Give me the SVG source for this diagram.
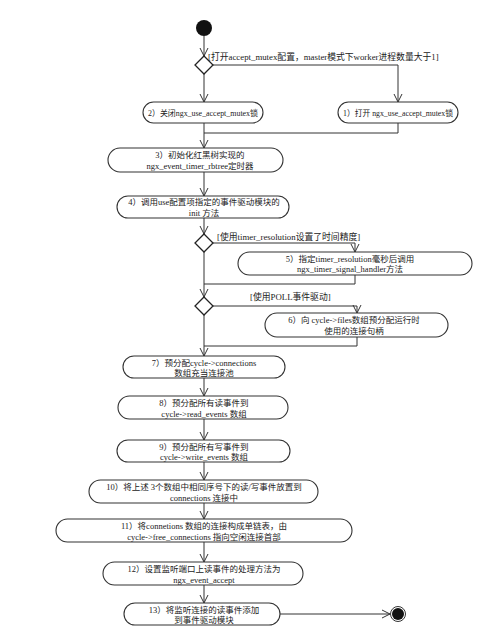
<svg xmlns="http://www.w3.org/2000/svg" width="490" height="630" viewBox="0 0 490 630">
<defs>
<style>
.node rect{fill:#fff;stroke:#333;stroke-width:1.1}
.node text,.guard{font-family:"Liberation Serif","Noto Sans CJK SC",serif;font-size:8.5px;fill:#222;text-anchor:middle}
.guard{text-anchor:start;font-size:8.8px}
.conn path{fill:none;stroke:#333;stroke-width:1}
.dia{fill:#fff;stroke:#222;stroke-width:1.3}
</style>
<marker id="arr" markerUnits="userSpaceOnUse" markerWidth="12" markerHeight="12" refX="9" refY="5" orient="auto">
<path d="M1,1 L9,5 L1,9" fill="none" stroke="#333" stroke-width="1"/>
</marker>
</defs>
<rect width="490" height="630" fill="#fff"/>

<g id="connectors" class="conn">
<path d="M204,36 V56" marker-end="url(#arr)"/>
<path d="M204,74 V102" marker-end="url(#arr)"/>
<path d="M213,65 H398 V102" marker-end="url(#arr)"/>
<path d="M204,123 V148" marker-end="url(#arr)"/>
<path d="M398,123 V133 H204"/>
<path d="M204,172 V196" marker-end="url(#arr)"/>
<path d="M204,218 V234" marker-end="url(#arr)"/>
<path d="M213,243 H355 V252" marker-end="url(#arr)"/>
<path d="M204,252 V297" marker-end="url(#arr)"/>
<path d="M355,275 V284 H204"/>
<path d="M213,306 H357 V313" marker-end="url(#arr)"/>
<path d="M204,315 V356" marker-end="url(#arr)"/>
<path d="M357,337 V346 H204"/>
<path d="M204,378 V396" marker-end="url(#arr)"/>
<path d="M204,419 V440" marker-end="url(#arr)"/>
<path d="M204,462 V480" marker-end="url(#arr)"/>
<path d="M204,503 V519" marker-end="url(#arr)"/>
<path d="M204,542 V562" marker-end="url(#arr)"/>
<path d="M204,585 V603" marker-end="url(#arr)"/>
<path d="M280,614 H390" marker-end="url(#arr)"/>
</g>

<g id="start"><circle cx="204" cy="28" r="8" fill="#111"/></g>
<g id="end"><circle cx="398" cy="614" r="7.5" fill="#fff" stroke="#333" stroke-width="1"/><circle cx="398" cy="614" r="6" fill="#111"/></g>

<g id="decision1"><path class="dia" d="M204,56 L213,65 L204,74 L195,65 Z"/></g>
<g id="decision2"><path class="dia" d="M204,234 L213,243 L204,252 L195,243 Z"/></g>
<g id="decision3"><path class="dia" d="M204,297 L213,306 L204,315 L195,306 Z"/></g>

<text class="guard" x="208" y="60">[打开accept_mutex配置，master模式下worker进程数量大于1]</text>
<text class="guard" x="217" y="240">[使用timer_resolution设置了时间精度]</text>
<text class="guard" x="250" y="300">[使用POLL事件驱动]</text>

<g id="n2" class="node"><rect x="143" y="102" width="120" height="21" rx="10.5"/><text x="203" y="115.5" textLength="110" lengthAdjust="spacingAndGlyphs">2）关闭ngx_use_accept_mutex锁</text></g>
<g id="n1" class="node"><rect x="338" y="102" width="120" height="21" rx="10.5"/><text x="398" y="115.5" textLength="110" lengthAdjust="spacingAndGlyphs">1）打开 ngx_use_accept_mutex锁</text></g>
<g id="n3" class="node"><rect x="108" y="148" width="175" height="24" rx="12"/><text x="200" y="158">3）初始化红黑树实现的</text><text x="200" y="169">ngx_event_timer_rbtree定时器</text></g>
<g id="n4" class="node"><rect x="117" y="196" width="172" height="22" rx="11"/><text x="204" y="205">4）调用use配置项指定的事件驱动模块的</text><text x="204" y="215.5">init 方法</text></g>
<g id="n5" class="node"><rect x="238" y="252" width="234" height="23" rx="11.5"/><text x="350" y="261.5">5）指定timer_resolution毫秒后调用</text><text x="350" y="272">ngx_timer_signal_handler方法</text></g>
<g id="n6" class="node"><rect x="265" y="313" width="183" height="24" rx="12"/><text x="354" y="323">6）向 cycle-&gt;files数组预分配运行时</text><text x="354" y="334">使用的连接句柄</text></g>
<g id="n7" class="node"><rect x="123" y="356" width="162" height="22" rx="11"/><text x="204" y="365.5">7）预分配cycle-&gt;connections</text><text x="204" y="376">数组充当连接池</text></g>
<g id="n8" class="node"><rect x="118" y="396" width="170" height="23" rx="11.5"/><text x="204" y="406">8）预分配所有读事件到</text><text x="204" y="416.5">cycle-&gt;read_events 数组</text></g>
<g id="n9" class="node"><rect x="117" y="440" width="173" height="22" rx="11"/><text x="204" y="449.5">9）预分配所有写事件到</text><text x="204" y="460">cycle-&gt;write_events 数组</text></g>
<g id="n10" class="node"><rect x="89" y="480" width="229" height="23" rx="11.5"/><text x="204" y="490">10）将上述 3个数组中相同序号下的读/写事件放置到</text><text x="204" y="500.5">connections 连接中</text></g>
<g id="n11" class="node"><rect x="56" y="519" width="296" height="23" rx="11.5"/><text x="204" y="529">11）将connetions 数组的连接构成单链表，由</text><text x="204" y="539.5">cycle-&gt;free_connections 指向空闲连接首部</text></g>
<g id="n12" class="node"><rect x="103" y="562" width="200" height="23" rx="11.5"/><text x="204" y="572">12）设置监听端口上读事件的处理方法为</text><text x="204" y="582.5">ngx_event_accept</text></g>
<g id="n13" class="node"><rect x="124" y="603" width="156" height="22" rx="11"/><text x="204" y="612.5">13）将监听连接的读事件添加</text><text x="204" y="623">到事件驱动模块</text></g>
</svg>
